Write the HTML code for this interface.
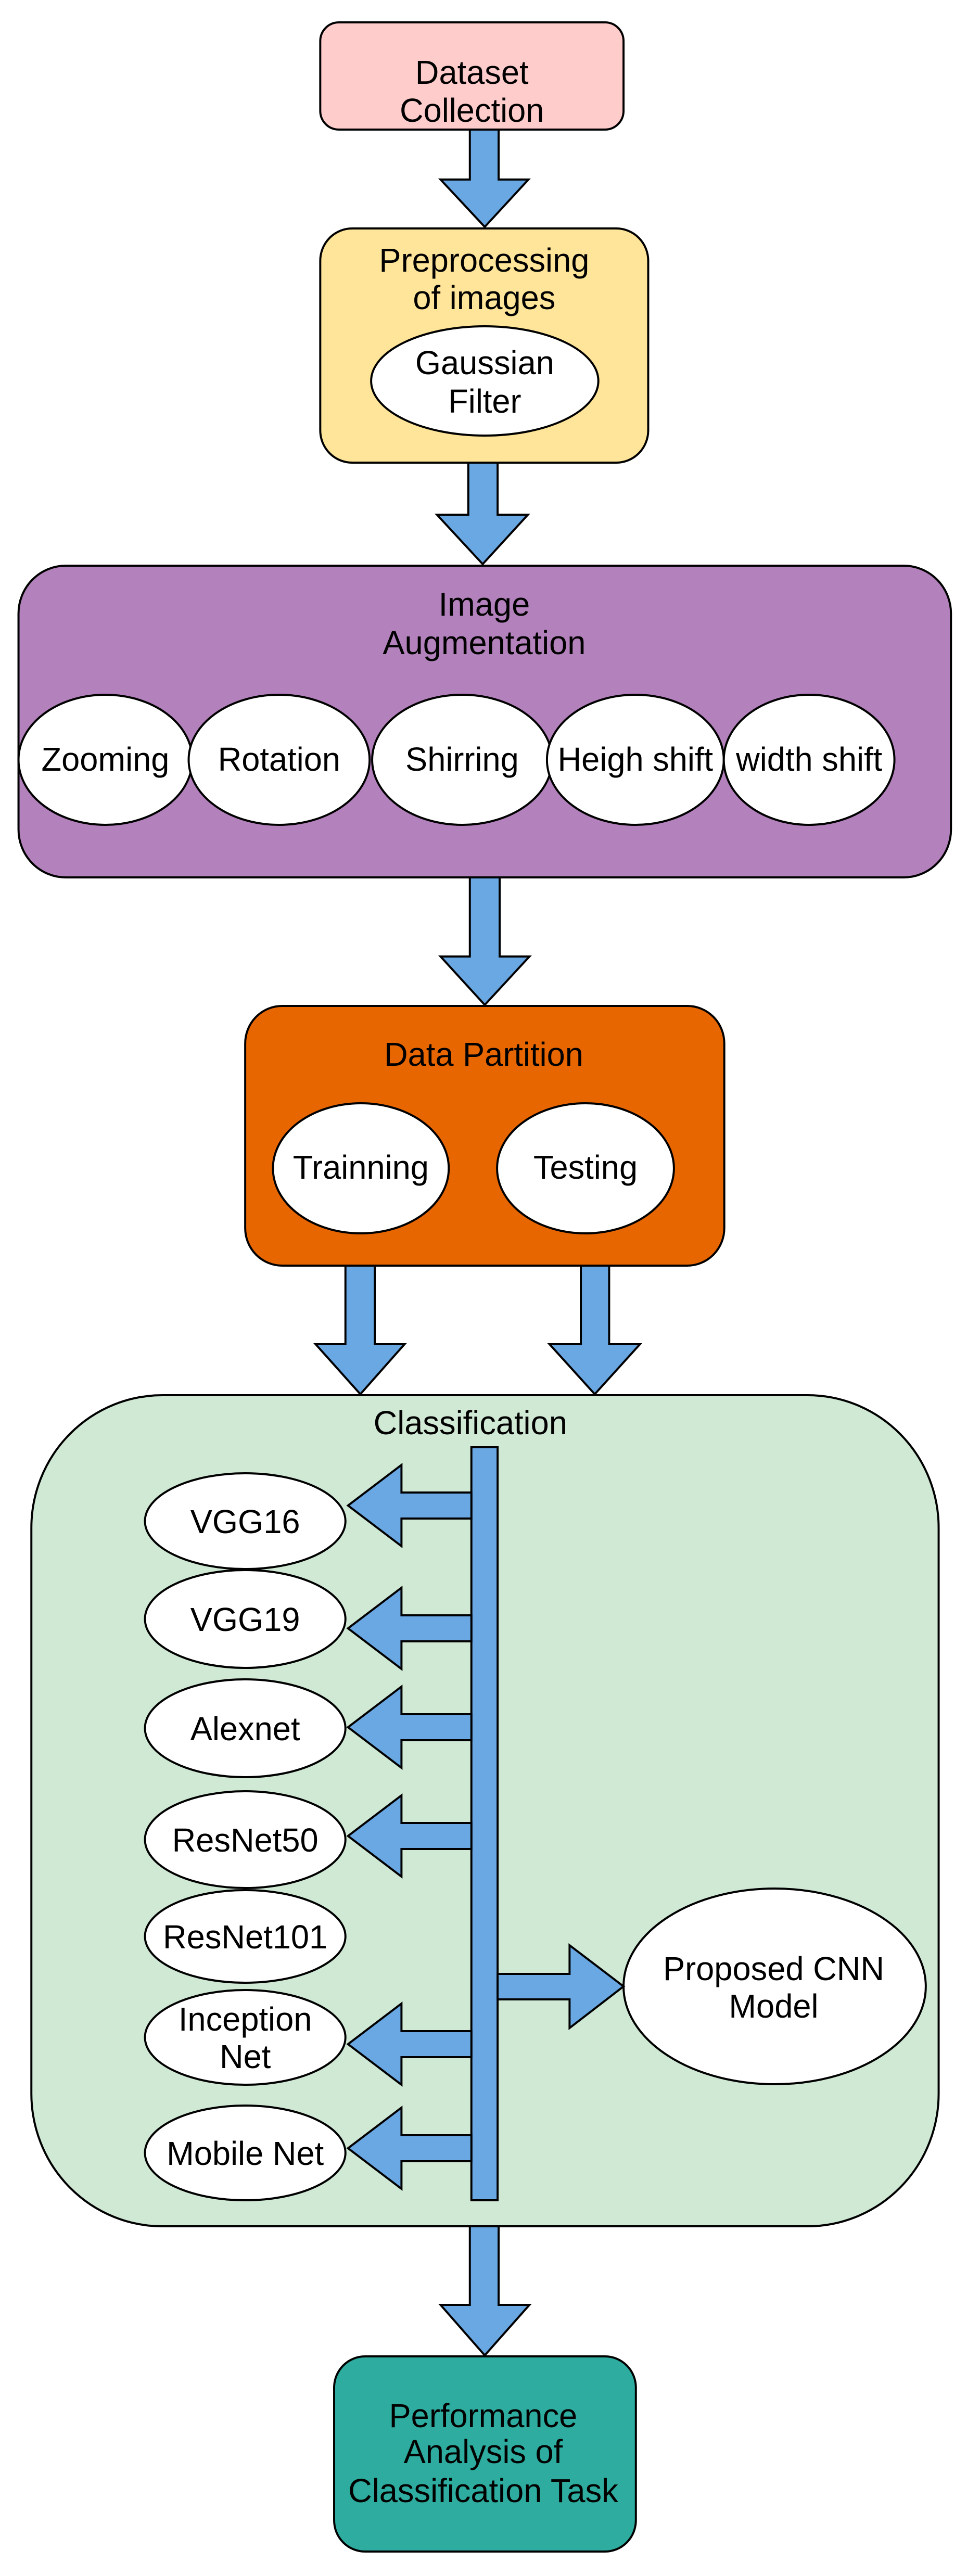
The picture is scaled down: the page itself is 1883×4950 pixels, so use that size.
<!DOCTYPE html>
<html><head><meta charset="utf-8"><style>html,body{margin:0;padding:0;background:#fff}svg{display:block}</style></head>
<body>
<svg width="1883" height="4950" viewBox="0 0 1883 4950" xmlns="http://www.w3.org/2000/svg" font-family="'Liberation Sans', Arial, sans-serif" font-size="64" text-anchor="middle" fill="#000">
<g transform="scale(0.9877,1)">
<g stroke="#000" stroke-width="4" stroke-linejoin="miter">
<rect x="623" y="43" width="590" height="206" rx="36" fill="#ffcccc"/>
<polygon fill="#6aa8e4" points="914,249 970,249 970,345 1028,345 943,436 857,345 914,345"/>
<rect x="623" y="439" width="638" height="450" rx="62" fill="#ffe599"/>
<ellipse cx="943" cy="732" rx="221" ry="105" fill="#fff"/>
<polygon fill="#6aa8e4" points="911,889 968,889 968,989 1027,989 939,1084 850,989 911,989"/>
<rect x="36" y="1087" width="1814" height="599" rx="92" fill="#b381bb"/>
<ellipse cx="205" cy="1460" rx="169" ry="125" fill="#fff"/>
<ellipse cx="543" cy="1460" rx="176" ry="125" fill="#fff"/>
<ellipse cx="899" cy="1460" rx="175" ry="125" fill="#fff"/>
<ellipse cx="1236" cy="1460" rx="172" ry="125" fill="#fff"/>
<ellipse cx="1574" cy="1460" rx="166" ry="125" fill="#fff"/>
<polygon fill="#6aa8e4" points="914,1686 972,1686 972,1838 1030,1838 943,1931 857,1838 914,1838"/>
<rect x="477" y="1933" width="932" height="499" rx="72" fill="#e86600"/>
<ellipse cx="702" cy="2245" rx="171" ry="125" fill="#fff"/>
<ellipse cx="1139" cy="2245" rx="172" ry="125" fill="#fff"/>
<polygon fill="#6aa8e4" points="672,2432 729,2432 729,2583 787,2583 701,2679 614,2583 672,2583"/>
<polygon fill="#6aa8e4" points="1130,2432 1185,2432 1185,2583 1245,2583 1157,2679 1069,2583 1130,2583"/>
<rect x="61" y="2681" width="1765" height="1597" rx="255" fill="#d0e9d5"/>
<ellipse cx="477" cy="2923" rx="195" ry="92" fill="#fff"/>
<ellipse cx="477" cy="3111" rx="195" ry="94" fill="#fff"/>
<ellipse cx="477" cy="3321" rx="195" ry="94" fill="#fff"/>
<ellipse cx="477" cy="3535" rx="195" ry="93" fill="#fff"/>
<ellipse cx="477" cy="3721" rx="195" ry="89" fill="#fff"/>
<ellipse cx="477" cy="3915" rx="195" ry="91" fill="#fff"/>
<ellipse cx="477" cy="4137" rx="195" ry="91" fill="#fff"/>
<ellipse cx="1507" cy="3817" rx="294" ry="188" fill="#fff"/>
<rect x="917" y="2781" width="51" height="1447" fill="#6aa8e4"/>
<polygon fill="#6aa8e4" points="917,2868 781,2868 781,2815 677,2893 781,2971 781,2918 917,2918"/>
<polygon fill="#6aa8e4" points="917,3104 781,3104 781,3051 677,3129 781,3207 781,3154 917,3154"/>
<polygon fill="#6aa8e4" points="917,3294 781,3294 781,3241 677,3319 781,3397 781,3344 917,3344"/>
<polygon fill="#6aa8e4" points="917,3503 781,3503 781,3450 677,3528 781,3606 781,3553 917,3553"/>
<polygon fill="#6aa8e4" points="917,3903 781,3903 781,3850 677,3928 781,4006 781,3953 917,3953"/>
<polygon fill="#6aa8e4" points="917,4103 781,4103 781,4050 677,4128 781,4206 781,4153 917,4153"/>
<polygon fill="#6aa8e4" points="968,3793 1108,3793 1108,3738 1213,3817 1108,3897 1108,3842 968,3842"/>
<polygon fill="#6aa8e4" points="914,4278 970,4278 970,4429 1030,4429 943,4526 857,4429 914,4429"/>
<rect x="650" y="4528" width="587" height="375" rx="60" fill="#2dac9f"/>
</g>
<g stroke="none">
<text x="918" y="161">Dataset</text>
<text x="918" y="234">Collection</text>
<text x="942" y="522">Preprocessing</text>
<text x="942" y="594">of images</text>
<text x="943" y="719">Gaussian</text>
<text x="943" y="793">Filter</text>
<text x="942" y="1183">Image</text>
<text x="942" y="1257">Augmentation</text>
<text x="205" y="1481">Zooming</text>
<text x="543" y="1481">Rotation</text>
<text x="899" y="1481">Shirring</text>
<text x="1236" y="1481">Heigh shift</text>
<text x="1574" y="1481">width shift</text>
<text x="941" y="2048">Data Partition</text>
<text x="702" y="2265">Trainning</text>
<text x="1139" y="2265">Testing</text>
<text x="915" y="2756">Classification</text>
<text x="477" y="2946">VGG16</text>
<text x="477" y="3134">VGG19</text>
<text x="477" y="3344">Alexnet</text>
<text x="477" y="3558">ResNet50</text>
<text x="477" y="3744">ResNet101</text>
<text x="477" y="3902">Inception</text>
<text x="477" y="3974">Net</text>
<text x="477" y="4160">Mobile Net</text>
<text x="1505" y="3805">Proposed CNN</text>
<text x="1505" y="3877">Model</text>
<text x="940" y="4664">Performance</text>
<text x="940" y="4733">Analysis of</text>
<text x="940" y="4808">Classification Task</text>
</g>
</g>
</svg>
</body></html>
